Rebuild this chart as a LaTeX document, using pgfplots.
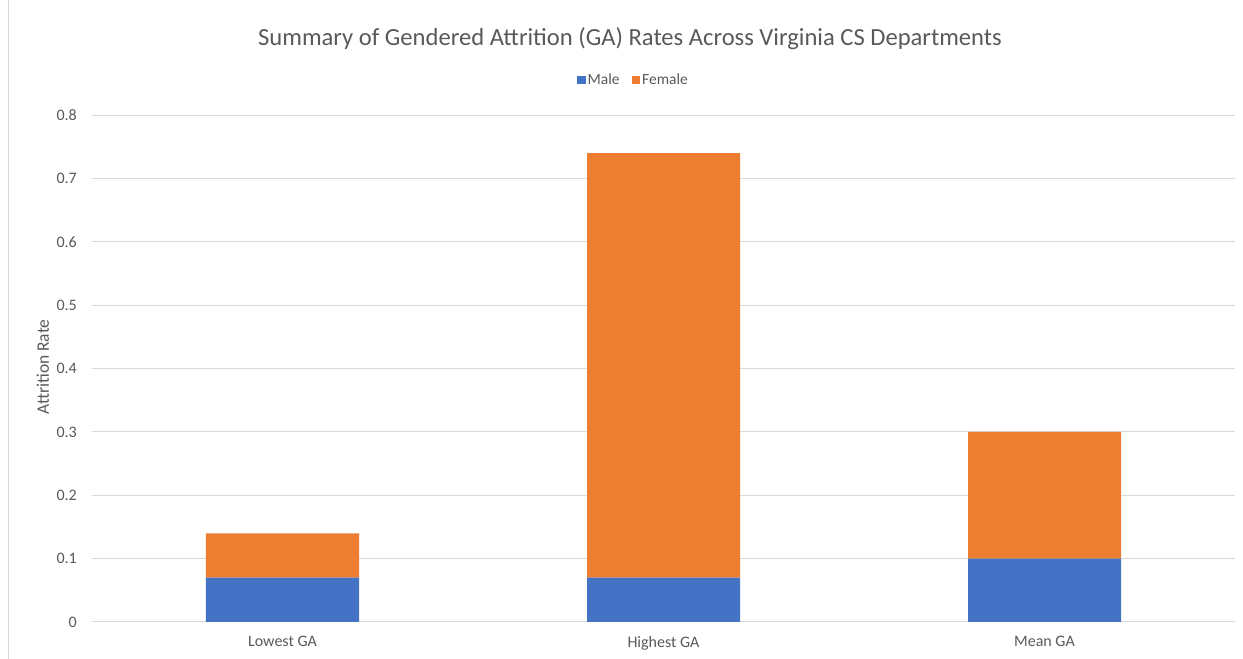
\documentclass[border=0pt]{standalone}
\usepackage{pgfplots}
\pgfplotsset{compat=1.18}
\usepackage{fontspec}
\setmainfont{Carlito}
\definecolor{xblue}{HTML}{4472C4}
\definecolor{xorange}{HTML}{ED7D31}
\definecolor{xtext}{HTML}{595959}
\definecolor{xgrid}{HTML}{D9D9D9}
\begin{document}
\begin{tikzpicture}[x=1pt,y=1pt]
\path[use as bounding box] (0,0) rectangle (1243,659);
\draw[xgrid, line width=1pt] (8.5,0) -- (8.5,659);
\node[text=xtext, font=\fontsize{24.6}{28}\selectfont] at (630,620) {Summary of Gendered Attrition (GA) Rates Across Virginia CS Departments};
\node[rotate=90, text=xtext, font=\fontsize{17.5}{20}\selectfont] at (43,292) {Attrition Rate};
\begin{axis}[
  at={(92pt,37pt)}, anchor=south west,
  scale only axis, width=1143pt, height=507pt,
  ybar stacked, bar width=153pt,
  xmin=-0.5, xmax=2.5, ymin=0, ymax=0.8,
  xtick={0,1,2}, xticklabels={Lowest GA, Highest GA, Mean GA},
  ytick={0,0.1,0.2,0.3,0.4,0.5,0.6,0.7,0.8},
  ymajorgrids, grid style={xgrid, line width=1pt},
  axis line style={draw=none}, tick style={draw=none},
  /pgf/number format/assume math mode=true,
  yticklabel={\pgfmathprintnumber[fixed,precision=1]{\tick}},
  yticklabel style={inner sep=0pt, xshift=-15pt, text=xtext, font=\fontsize{16}{18}\selectfont},
  xticklabel style={inner sep=0pt, yshift=-14pt, anchor=north, text=xtext, font=\fontsize{16}{18}\selectfont},
  legend columns=2,
  legend style={at={(0.4738,1.069)}, anchor=center, draw=none, fill=none,
    font=\fontsize{15.5}{18}\selectfont, text=xtext,
    /tikz/every even column/.append style={column sep=10pt}},
  legend image code/.code={\fill[#1] (-2.5pt,-4pt) rectangle (6pt,4.5pt);},
]
\addplot[fill=xblue, draw=none] coordinates {(0,0.07) (1,0.07) (2,0.1)};
\addplot[fill=xorange, draw=none] coordinates {(0,0.07) (1,0.67) (2,0.2)};
\legend{Male, Female}
\end{axis}
\end{tikzpicture}
\end{document}
